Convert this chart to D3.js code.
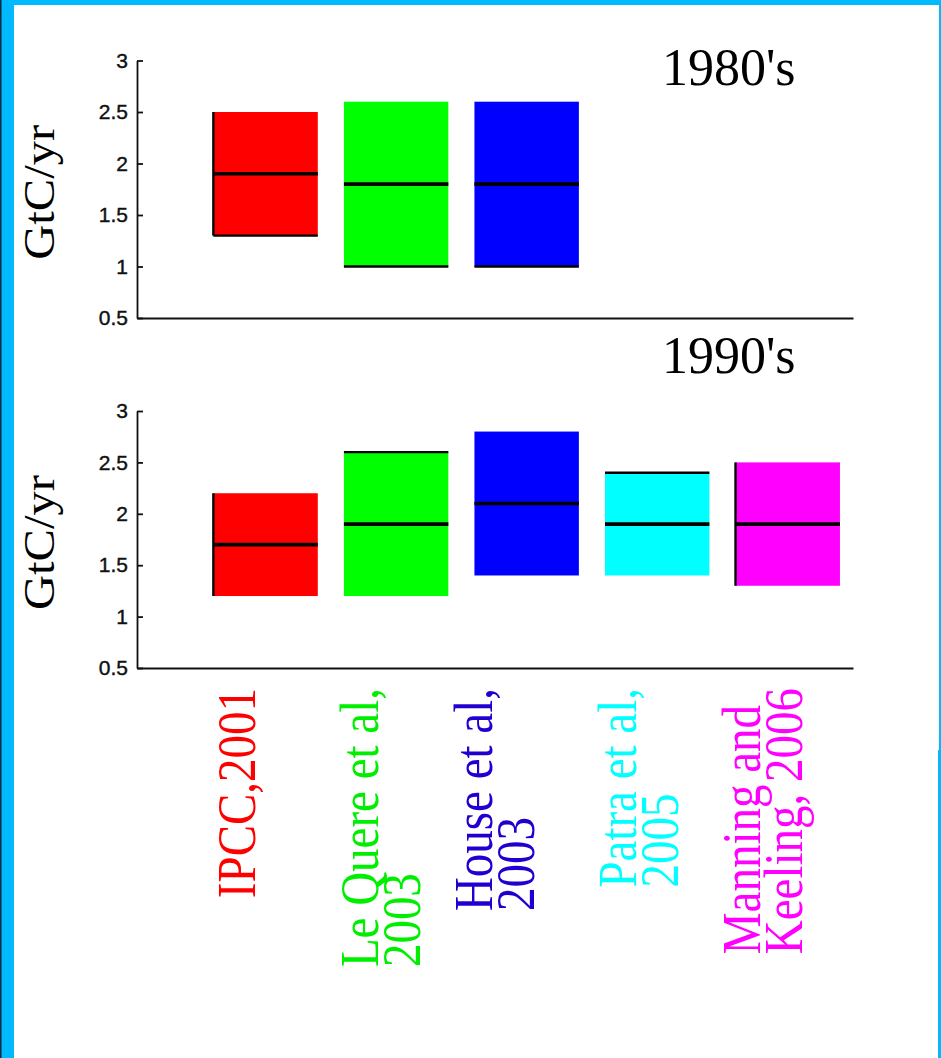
<!DOCTYPE html>
<html>
<head>
<meta charset="utf-8">
<script src="https://cdn.jsdelivr.net/npm/d3@7"></script>
<style>
  html, body { margin: 0; padding: 0; background: #fff; }
  svg { display: block; }
</style>
</head>
<body>
<svg id="chart" width="941" height="1058"></svg>
<script>
// Residual land sink estimates (GtC/yr): low, best estimate, high
const sources = ["IPCC,2001", "Le Quere et al, 2003", "House et al, 2003", "Patra et al, 2005", "Manning and Keeling, 2006"];
const sourceLines = [["IPCC,2001"], ["Le Quere et al,", "2003"], ["House et al,", "2003"], ["Patra et al,", "2005"], ["Manning and", "Keeling, 2006"]];
const sourceColors = ["#ff0000", "#00ff00", "#0000ff", "#00ffff", "#ff00ff"];
const labelColors = ["#ff0000", "#00ee00", "#2000d0", "#00ffff", "#ff00ff"];

const low1980s = [1.3, 1.0, 1.0];
const mid1980s = [1.9, 1.8, 1.8];
const high1980s = [2.5, 2.6, 2.6];

const low1990s = [1.2, 1.2, 1.4, 1.4, 1.3];
const mid1990s = [1.7, 1.9, 2.1, 1.9, 1.9];
const high1990s = [2.2, 2.6, 2.8, 2.4, 2.5];

// Edges of each range box drawn with a dark outline
const edges1980s = [["left", "bottom"], ["bottom"], ["bottom"]];
const edges1990s = [["left"], ["top"], [], ["top"], ["left"]];

const yTicks = [0.5, 1, 1.5, 2, 2.5, 3];
const yTickLabels = ["0.5", "1", "1.5", "2", "2.5", "3"];
const decadeTitles = ["1980's", "1990's"];
const yTitle = "GtC/yr";

const svg = d3.select("#chart");

// Frame
svg.append("rect").attr("x", 0).attr("y", 0).attr("width", 941).attr("height", 1058).attr("fill", "#fff");
svg.append("rect").attr("x", 0).attr("y", 0).attr("width", 941).attr("height", 5).attr("fill", "#00b9ff");
svg.append("rect").attr("x", 0).attr("y", 0).attr("width", 14).attr("height", 1058).attr("fill", "#00b9ff");
svg.append("rect").attr("x", 0).attr("y", 0).attr("width", 1.5).attr("height", 1058).attr("fill", "#0a2a40");
svg.append("rect").attr("x", 939).attr("y", 0).attr("width", 2).attr("height", 750).attr("fill", "#00b9ff");
svg.append("rect").attr("x", 938).attr("y", 750).attr("width", 3).attr("height", 308).attr("fill", "#00b9ff");

const x = d3.scaleLinear().domain([0.015, 5.5]).range([137, 853]);
const halfWidth = 0.4;

const panels = [
  { low: low1980s, mid: mid1980s, high: high1980s, edges: edges1980s, top: 60.5, bottom: 318, title: decadeTitles[0], titleY: 85 },
  { low: low1990s, mid: mid1990s, high: high1990s, edges: edges1990s, top: 411, bottom: 668, title: decadeTitles[1], titleY: 373 }
];

panels.forEach(p => {
  const y = d3.scaleLinear().domain([0.5, 3]).range([p.bottom, p.top]);
  const g = svg.append("g");

  const data = p.low.map((lo, i) => ({ i, lo, mid: p.mid[i], hi: p.high[i], edges: p.edges[i] }));

  // Range boxes
  g.selectAll("rect.box").data(data).join("rect")
    .attr("class", "box")
    .attr("x", d => x(d.i + 1 - halfWidth))
    .attr("y", d => y(d.hi))
    .attr("width", d => x(d.i + 1 + halfWidth) - x(d.i + 1 - halfWidth))
    .attr("height", d => y(d.lo) - y(d.hi))
    .attr("fill", d => sourceColors[d.i]);

  // Outlined edges
  data.forEach(d => {
    const x0 = x(d.i + 1 - halfWidth), x1 = x(d.i + 1 + halfWidth);
    d.edges.forEach(e => {
      let seg;
      if (e === "left") seg = [x0, y(d.hi), x0, y(d.lo)];
      if (e === "top") seg = [x0, y(d.hi), x1, y(d.hi)];
      if (e === "bottom") seg = [x0, y(d.lo), x1, y(d.lo)];
      g.append("line")
        .attr("x1", seg[0]).attr("y1", seg[1]).attr("x2", seg[2]).attr("y2", seg[3])
        .attr("stroke", "#000").attr("stroke-width", 2.4);
    });
  });

  // Best estimate lines
  g.selectAll("line.mid").data(data).join("line")
    .attr("class", "mid")
    .attr("x1", d => x(d.i + 1 - halfWidth))
    .attr("x2", d => x(d.i + 1 + halfWidth))
    .attr("y1", d => y(d.mid))
    .attr("y2", d => y(d.mid))
    .attr("stroke", "#000")
    .attr("stroke-width", 3.6);

  // Axes
  const yAxis = d3.axisLeft(y)
    .tickValues(yTicks)
    .tickFormat((v, i) => yTickLabels[i])
    .tickSizeInner(-6)
    .tickSizeOuter(0)
    .tickPadding(9);
  const ya = svg.append("g").attr("transform", `translate(${x.range()[0]},0)`).call(yAxis);
  ya.select(".domain").attr("stroke", "#111").attr("stroke-width", 1.8);
  ya.selectAll(".tick line").attr("stroke", "#111").attr("stroke-width", 1.8);
  ya.selectAll(".tick text")
    .attr("font-family", "'Liberation Sans', Arial, sans-serif")
    .attr("font-size", 21)
    .attr("fill", "#111")
    .attr("stroke", "#111")
    .attr("stroke-width", 0.4);

  const xAxis = d3.axisBottom(x).tickValues([]).tickSizeOuter(0);
  const xa = svg.append("g").attr("transform", `translate(0,${p.bottom})`).call(xAxis);
  xa.select(".domain").attr("stroke", "#111").attr("stroke-width", 1.8);

  // Axis title
  svg.append("text")
    .attr("transform", `translate(54,${(p.top + p.bottom) / 2 + 3}) rotate(-90) scale(1.08,1)`)
    .attr("text-anchor", "middle")
    .attr("font-family", "'Liberation Serif', 'Times New Roman', serif")
    .attr("font-size", 45)
    .attr("fill", "#000")
    .text(yTitle);

  // Decade title
  svg.append("text")
    .attr("x", 662).attr("y", p.titleY)
    .attr("font-family", "'Liberation Serif', 'Times New Roman', serif")
    .attr("font-size", 52)
    .attr("fill", "#000")
    .text(p.title);
});

// Source labels, rotated, below the lower panel
const labelShift = [-10.5, -18, -34.6, -21, -27.6];
const labelTop = 688;
const lineStep = 42;
const alongScale = 0.87;
sourceLines.forEach((lines, i) => {
  const bx = x(i + 1) + labelShift[i];
  const g = svg.append("g")
    .attr("transform", `translate(${bx},${labelTop}) rotate(-90) scale(${alongScale},1)`);
  const texts = lines.map((line, k) => g.append("text")
    .attr("y", k * lineStep)
    .attr("font-family", "'Liberation Serif', 'Times New Roman', serif")
    .attr("font-size", 54)
    .attr("fill", labelColors[i])
    .text(line));
  const widest = d3.max(texts, t => t.node().getComputedTextLength());
  texts.forEach(t => t.attr("x", -widest));
});
</script>
</body>
</html>
